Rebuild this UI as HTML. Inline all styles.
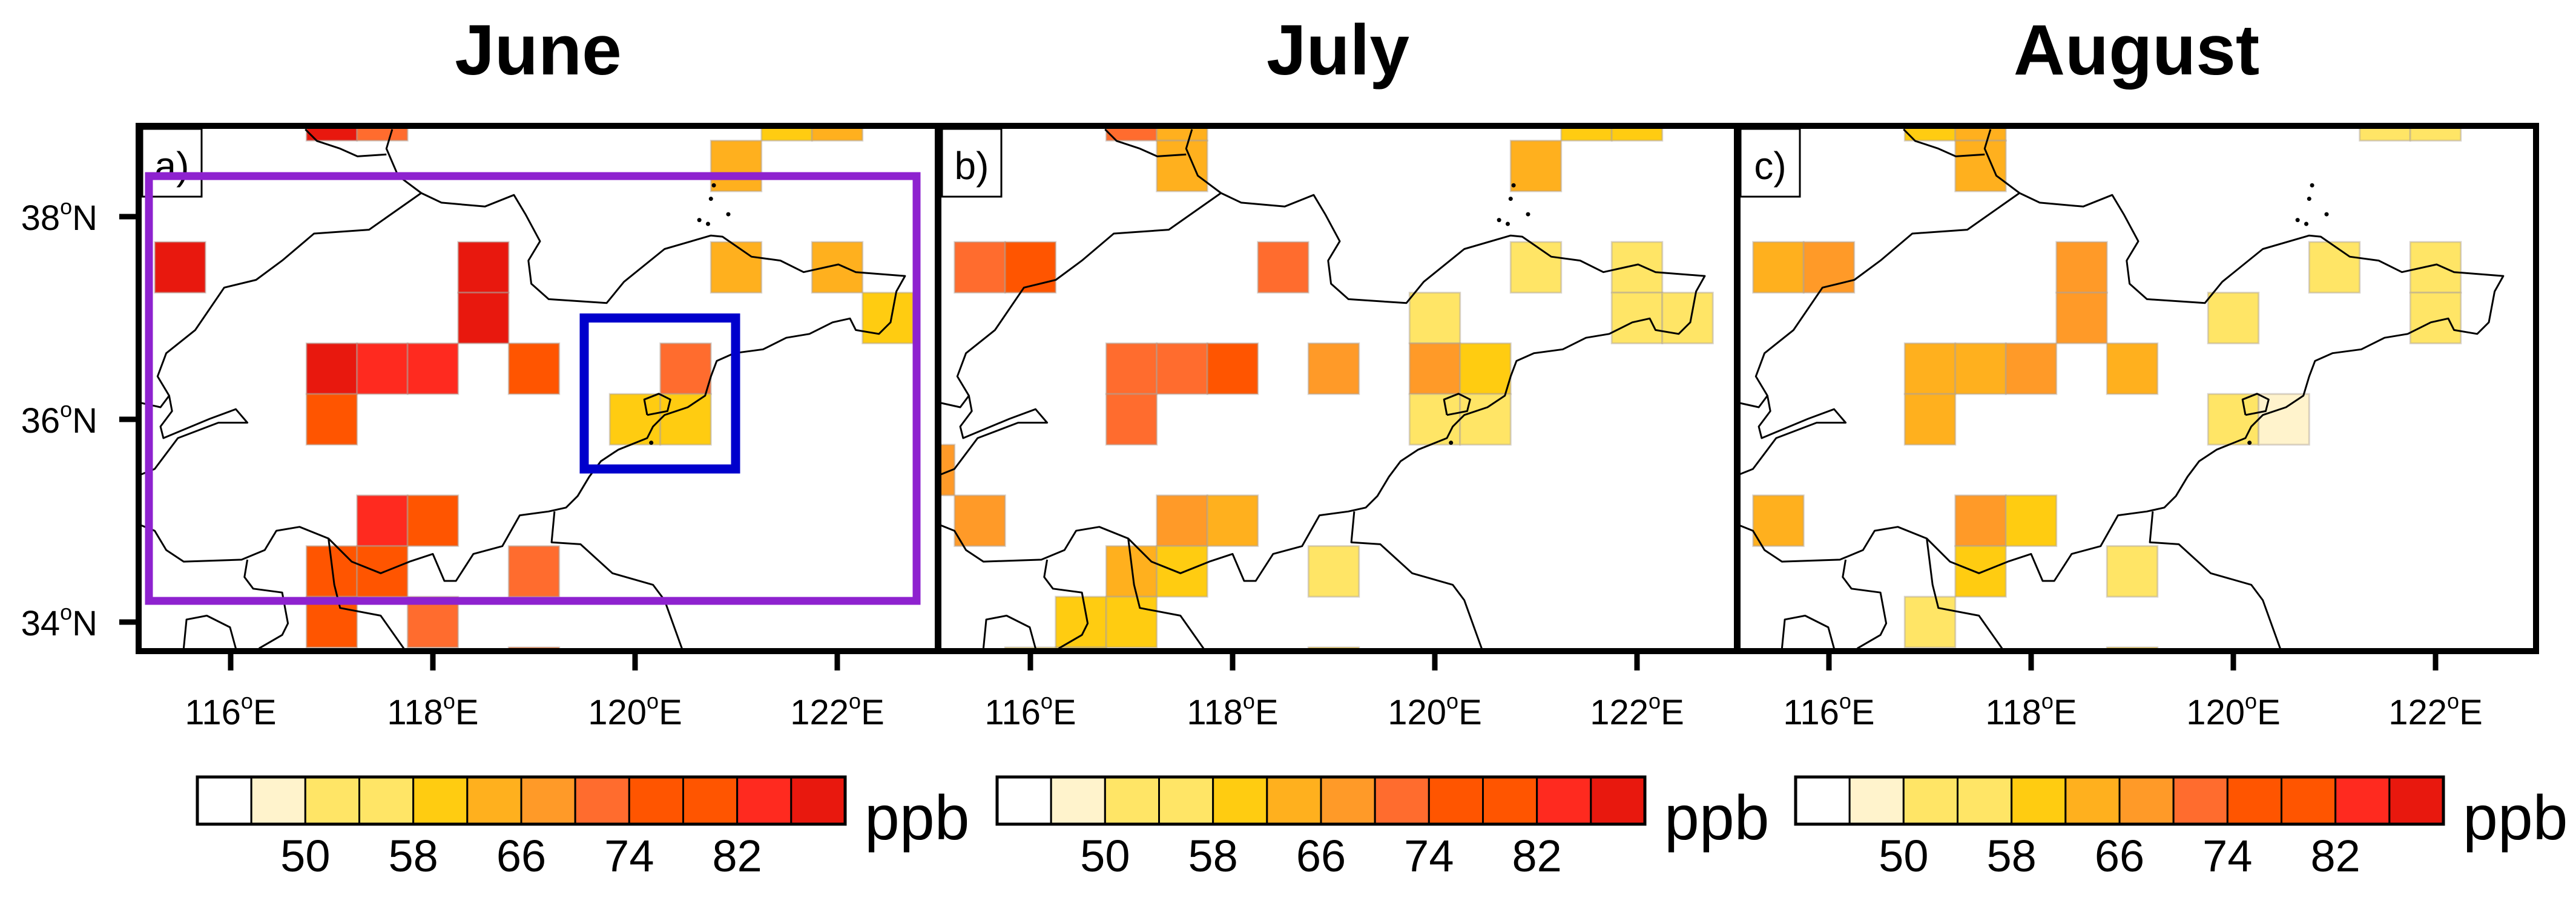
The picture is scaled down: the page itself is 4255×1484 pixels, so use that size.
<!DOCTYPE html>
<html><head><meta charset="utf-8"><style>
html,body{margin:0;padding:0;background:#fff}
svg{display:block}
text{font-family:"Liberation Sans",Arial,sans-serif;fill:#000}
</style></head><body>
<svg id="fig" width="4255" height="1484" viewBox="0 0 4255 1484" xmlns="http://www.w3.org/2000/svg"></svg>
<script>
// ---- data ----
const months = ["June","July","August"];
const panelLetters = ["a)","b)","c)"];
const levels = [46,50,54,58,62,66,70,74,78,82,86];
const levelColors = ["#FFFFFF","#FFF3CC","#FFE566","#FFE566","#FFCC11","#FFB01E","#FF9A28","#FF6C2E","#FF5500","#FF5500","#FF2A1F","#E8180E"];
const cbLabels = [50,58,66,74,82];
const xTicks = [116,118,120,122];
const yTicks = [38,36,34];
// grid cells: [lon, lat, ppb]
const juneCells = [[117,39,88],[117.5,39,72],[121.5,39,60],[122,39,64],[121,38.5,64],
 [115.5,37.5,88],[118.5,37.5,88],[121,37.5,64],[122,37.5,64],[118.5,37,88],[122.5,37,60],
 [117,36.5,88],[117.5,36.5,84],[118,36.5,84],[119,36.5,80],[120.5,36.5,72],
 [117,36,80],[120,36,60],[120.5,36,60],[117.5,35,84],[118,35,80],
 [117,34.5,80],[117.5,34.5,80],[119,34.5,72],[117,34,80],[118,34,72],[119,33.5,80]];
const julyCells = [[117,39,72],[117.5,39,64],[121.5,39,60],[122,39,60],[117.5,38.5,64],[121,38.5,64],
 [115.5,37.5,72],[116,37.5,80],[118.5,37.5,72],[121,37.5,54],[122,37.5,54],
 [120,37,54],[122,37,54],[122.5,37,54],
 [117,36.5,72],[117.5,36.5,72],[118,36.5,80],[119,36.5,68],[120,36.5,68],[120.5,36.5,60],
 [117,36,72],[120,36,54],[120.5,36,54],[115,35.5,68],
 [115.5,35,68],[117.5,35,68],[118,35,64],[117,34.5,64],[117.5,34.5,60],[119,34.5,54],
 [116.5,34,60],[117,34,60],[116,33.5,54],[116.5,33.5,60],[119,33.5,60]];
const augustCells = [[117,39,60],[117.5,39,64],[121.5,39,54],[122,39,54],[117.5,38.5,64],
 [115.5,37.5,64],[116,37.5,68],[118.5,37.5,68],[121,37.5,54],[122,37.5,54],
 [118.5,37,68],[120,37,54],[122,37,54],
 [117,36.5,64],[117.5,36.5,64],[118,36.5,68],[119,36.5,64],
 [117,36,64],[120,36,54],[120.5,36,48],
 [115.5,35,64],[117.5,35,68],[118,35,60],[117.5,34.5,60],[119,34.5,54],[117,34,54],[119,33.5,60]];
const monthCells = [juneCells, julyCells, augustCells];

const tracesRaw = [
 [[490,100],[480,150],[500,220],[540,265],[575,290],[650,300],[700,270],[720,320],[745,390],[725,440],[730,500],[760,540],[860,550],[890,495],[960,410],[1040,375],[1060,378],[1110,430],[1160,440],[1200,470],[1260,450],[1290,470],[1375,480],[1360,520],[1350,600],[1330,630],[1290,620],[1280,590],[1250,600],[1210,630],[1170,640],[1130,670],[1080,680],[1050,700],[1040,740],[1030,790],[1000,820],[960,840],[940,870],[930,900],[880,930],[850,960],[830,1000],[810,1050],[790,1080],[760,1090],[710,1100],[680,1180],[630,1200],[600,1270],[580,1270],[560,1200],[520,1220],[470,1250],[420,1220],[380,1160],[330,1130],[290,1140],[270,1190],[230,1215],[130,1220],[100,1190],[80,1140],[30,1110]],
 [[540,265],[450,360],[355,370],[300,440],[255,490],[200,510],[150,620],[100,680],[85,740],[105,790],[110,830],[90,870],[95,900],[175,850],[220,825],[240,860],[190,860],[120,900],[80,980],[30,1010]],
 [[30,800],[60,810],[90,820],[105,790]],
 [[340,100],[360,130],[400,150],[430,170],[480,165]],
 [[770,1090],[765,1170],[815,1175],[870,1250],[940,1280],[960,1320],[990,1445]],
 [[240,1215],[235,1260],[250,1290],[300,1300],[310,1380],[300,1410],[260,1445]],
 [[130,1445],[135,1370],[170,1360],[210,1390],[220,1445]],
 [[380,1160],[390,1280],[400,1340],[470,1360],[510,1445]],
 [[930,840],[925,800],[950,785],[970,800],[965,830],[930,840]]
];
const islandsRaw = [[1045,245],[1040,280],[1020,335],[1035,345],[1070,320],[937,912]];

// ---- layout ----
const NS="http://www.w3.org/2000/svg";
const svg=document.getElementById('fig');
function el(tag,attrs,parent){const e=document.createElementNS(NS,tag);for(const k in attrs)e.setAttribute(k,attrs[k]);(parent||svg).appendChild(e);return e;}
const panelLeft=[229,1550,2869], panelW=1320, topY=208, bottomY=1076;
const pxPerDeg=167, latPx=167.5;
function xOf(p,lon){return panelLeft[p]+152+(lon-116)*pxPerDeg;}
function yOf(lat){return 693-(lat-36)*latPx;}
function colorOf(v){let i=0;while(i<levels.length&&v>=levels[i])i++;return levelColors[i];}
function rawToLonLat(pt){return [114.79+pt[0]*0.005731, 39.242-pt[1]*0.003808];}

const defs=el('defs',{});
for(let p=0;p<3;p++){
  const cp=el('clipPath',{id:'clip'+p},defs);
  el('rect',{x:panelLeft[p],y:topY,width:panelW,height:bottomY-topY},cp);
}

for(let p=0;p<3;p++){
  const g=el('g',{'clip-path':'url(#clip'+p+')'});
  
  
  monthCells[p].forEach(c=>{
    const r=el('rect',{x:xOf(p,c[0]-0.25),y:yOf(c[1]+0.25),width:0.5*pxPerDeg,height:0.5*latPx,fill:colorOf(c[2]),stroke:'rgba(170,160,150,0.45)','stroke-width':3},g);
    
    
  });
  tracesRaw.forEach(t=>{
    const d=t.map((pt,i)=>{const ll=rawToLonLat(pt);return (i?'L':'M')+xOf(p,ll[0]).toFixed(1)+','+yOf(ll[1]).toFixed(1);}).join('');
    const path=el('path',{d:d,fill:'none',stroke:'#000','stroke-width':3,'stroke-linejoin':'round'},g);
    
    
  });
  islandsRaw.forEach(pt=>{const ll=rawToLonLat(pt);el('circle',{cx:xOf(p,ll[0]),cy:yOf(ll[1]),r:3.5,fill:'#000'},g);});
  const fr=el('rect',{x:panelLeft[p],y:topY,width:panelW,height:bottomY-topY,fill:'none',stroke:'#000','stroke-width':10});
  
  
  const lb=el('rect',{x:panelLeft[p]+6,y:topY+5,width:98,height:112,fill:'#fff',stroke:'#000','stroke-width':3});
  
  
  const lt=el('text',{x:panelLeft[p]+55,y:topY+88,'font-size':64,'text-anchor':'middle'});
  lt.textContent=panelLetters[p];
  
  
  const tt=el('text',{x:panelLeft[p]+660,y:123,'font-size':118,'font-weight':'bold','text-anchor':'middle'});
  tt.textContent=months[p];
  
  
  xTicks.forEach(t=>{
    const x=xOf(p,t);
    el('line',{x1:x,y1:bottomY,x2:x,y2:bottomY+32,stroke:'#000','stroke-width':9});
    const tx=el('text',{x:x,y:1197,'font-size':58,'text-anchor':'middle'});
    tx.innerHTML=t+'<tspan font-size="36" dy="-26">o</tspan><tspan dy="26">E</tspan>';
    
    
  });
  const cbx=panelLeft[p]+97, cby=1284, cbw=1070, cbh=78, bw=cbw/levelColors.length;
  levelColors.forEach((c,i)=>{
    const b=el('rect',{x:cbx+i*bw,y:cby,width:bw,height:cbh,fill:c,stroke:'#000','stroke-width':3});
    
    
  });
  el('rect',{x:cbx,y:cby,width:cbw,height:cbh,fill:'none',stroke:'#000','stroke-width':5});
  cbLabels.forEach(v=>{
    const idx=levels.indexOf(v);
    const t=el('text',{x:cbx+(idx+1)*bw,y:1440,'font-size':74,'text-anchor':'middle'});
    t.textContent=v;
    
    
  });
  const u=el('text',{x:cbx+cbw+32,y:1387,'font-size':104});
  u.textContent='ppb';
  
  
}
yTicks.forEach(t=>{
  const y=yOf(t);
  el('line',{x1:197,y1:y,x2:229,y2:y,stroke:'#000','stroke-width':9});
  const tx=el('text',{x:161,y:y+22,'font-size':58,'text-anchor':'end'});
  tx.innerHTML=t+'<tspan font-size="36" dy="-26">o</tspan><tspan dy="26">N</tspan>';
  
  
});
const pr=el('rect',{x:246,y:291,width:1268,height:702,fill:'none',stroke:'#8E22CF','stroke-width':13});


const br=el('rect',{x:965,y:525.5,width:250,height:249.5,fill:'none',stroke:'#0000CC','stroke-width':15});


</script>
</body></html>
